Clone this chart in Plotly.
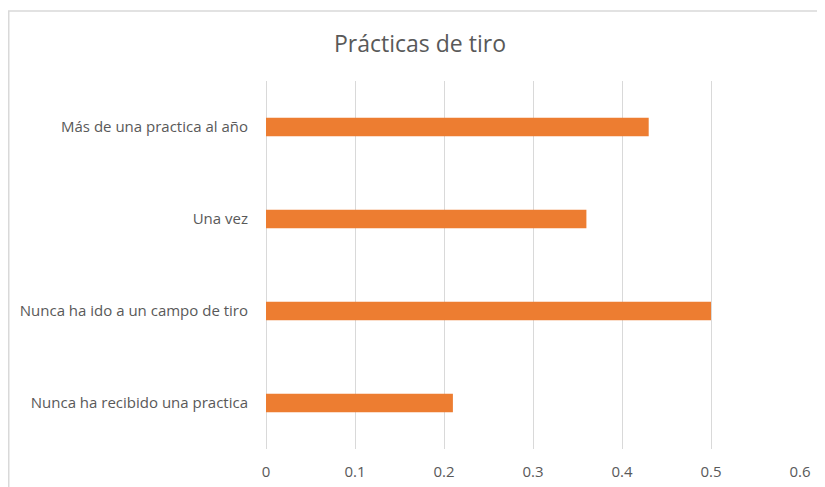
import plotly.graph_objects as go

categories = [
    "Más de una practica al año",
    "Una vez",
    "Nunca ha ido a un campo de tiro",
    "Nunca ha recibido una practica",
]
values = [0.43, 0.36, 0.5, 0.21]
tick_vals = [0, 0.1, 0.2, 0.3, 0.4, 0.5, 0.6]
tick_text = ["0", "0.1", "0.2", "0.3", "0.4", "0.5", "0.6"]

L, R, T, B = 258, 33, 73, 46
PW, PH = 825 - L - R, 487 - T - B

fig = go.Figure(go.Bar(
    x=values, y=categories, orientation="h",
    marker=dict(color="#ED7D31", line=dict(width=0)),
))

fig.update_layout(
    width=825, height=487,
    margin=dict(l=L, r=R, t=T, b=B, autoexpand=False),
    paper_bgcolor="white", plot_bgcolor="white",
    font=dict(family="Open Sans", size=15, color="#595959"),
    bargap=0.8,
    showlegend=False,
    title=dict(text="Prácticas de tiro", x=412/825, xanchor="center",
               y=1 - 36/487, yanchor="middle",
               font=dict(size=23, color="#595959")),
    xaxis=dict(range=[0, 0.6], tickvals=tick_vals, ticktext=tick_text,
               showgrid=True, gridcolor="#d9d9d9", gridwidth=1,
               zeroline=True, zerolinecolor="#d9d9d9", zerolinewidth=1,
               showline=False, ticks="",
               ticklabelstandoff=12),
    yaxis=dict(autorange="reversed", showgrid=False, zeroline=False,
               showline=False, ticks="", ticklabelstandoff=17),
    shapes=[dict(type="rect", xref="paper", yref="paper",
                 x0=(0.75 - L) / PW, x1=1.3, y0=-0.3, y1=1 + (T - 3) / PH,
                 line=dict(color="#d9d9d9", width=1.5), layer="below")],
)

fig.write_html("out.html")
